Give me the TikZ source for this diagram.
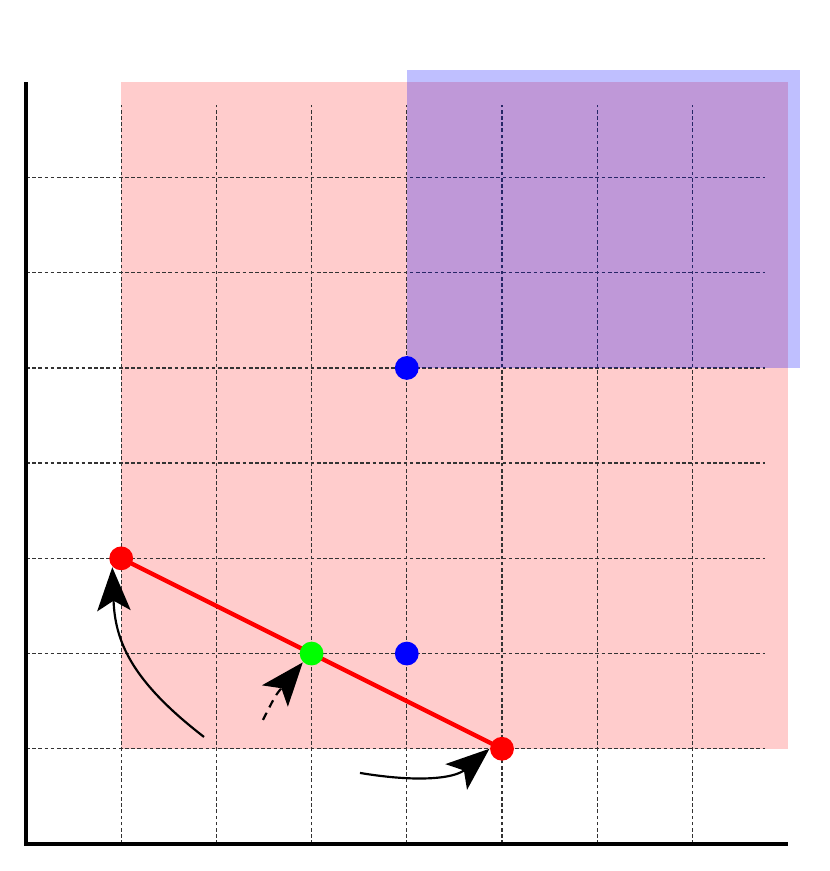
\documentclass[tikz,border=0pt]{standalone}
\usetikzlibrary{arrows.meta}
\begin{document}
\begin{tikzpicture}[x=1cm,y=1cm,
  gridline/.style={dash pattern=on 1.1pt off 0.75pt, line width=0.4pt, black!80},
  axisline/.style={line width=1.3pt, black},
  dot/.style={circle, inner sep=0pt, minimum size=0.25cm},
  arr/.style={line width=0.65pt, -{Stealth[length=13pt,width=10pt,inset=3pt]}}]
\useasboundingbox (-0.273,-0.284) rectangle (8.435,8.865);
% pink region
\fill[red!20] (1,1) rectangle (8,8);
% grid
\foreach \x in {1,...,7} \draw[gridline] (\x,0) -- (\x,7.76);
\foreach \y in {1,...,7} \draw[gridline] (0,\y) -- (7.76,\y);
% blue region
\fill[blue, opacity=0.25] (4,5) rectangle (8.13,8.13);
% axes
\draw[axisline] (0,8) -- (0,0) -- (8,0);
% red segment
\draw[red, line width=1.3pt] (1,3) -- (5,1);
% points
\node[dot, fill=red] (r1) at (1,3) {};
\node[dot, fill=red] (r2) at (5,1) {};
\node[dot, fill=green] (g) at (3,2) {};
\node[dot, fill=blue] (b1) at (4,5) {};
\node[dot, fill=blue] (b2) at (4,2) {};
% arrows
\coordinate (s1) at (1.87,1.124);
\coordinate (s2) at (2.489,1.303);
\coordinate (s3) at (3.508,0.746);
\draw[arr] (s1) .. controls (1.092,1.723) and (0.935,2.143) .. (r1.south west);
\draw[arr, dash pattern=on 2.4pt off 1.8pt] (s2) .. controls (2.62,1.56) .. (g.south west);
\draw[arr] (s3) .. controls (4.139,0.641) and (4.506,0.693) .. (r2.west);
\end{tikzpicture}
\end{document}
